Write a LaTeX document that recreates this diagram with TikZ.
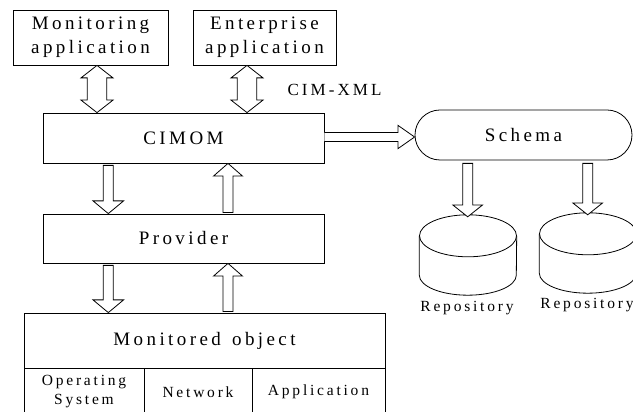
\documentclass[tikz,border=0pt]{standalone}
\usepackage{fontspec}
\setmainfont{Liberation Serif}[LetterSpace=18]
\usetikzlibrary{calc,shapes.misc}
\newcommand\bigtxt{\fontsize{19}{24}\selectfont}
\newcommand\smalltxt{\fontsize{15.5}{19}\selectfont}
% vertical fat arrow: #1 x, #2 start, #3 tip, #4 shaft half, #5 head half, #6 head length, #7 dir (1 up, -1 down)
\newcommand\fatV[7]{%
  \draw[fat] let \p1=(#2), \p2=(#3) in
   ({#1pt-#4pt},\y1) -- ({#1pt-#4pt},{\y2-#7*#6pt}) -- ({#1pt-#5pt},{\y2-#7*#6pt}) -- (#1pt,\y2)
   -- ({#1pt+#5pt},{\y2-#7*#6pt}) -- ({#1pt+#4pt},{\y2-#7*#6pt}) -- ({#1pt+#4pt},\y1) -- cycle;}
% vertical double fat arrow: #1 x, #2 lower tip, #3 upper tip, #4 shaft half, #5 head half, #6 head length
\newcommand\fatDV[6]{%
  \draw[fat] let \p1=(#2), \p2=(#3) in
   (#1pt,\y1) -- ({#1pt+#5pt},{\y1+#6pt}) -- ({#1pt+#4pt},{\y1+#6pt}) -- ({#1pt+#4pt},{\y2-#6pt})
   -- ({#1pt+#5pt},{\y2-#6pt}) -- (#1pt,\y2) -- ({#1pt-#5pt},{\y2-#6pt}) -- ({#1pt-#4pt},{\y2-#6pt})
   -- ({#1pt-#4pt},{\y1+#6pt}) -- ({#1pt-#5pt},{\y1+#6pt}) -- cycle;}
% horizontal fat arrow to the right: #1 y, #2 start, #3 tip, #4 shaft half, #5 head half, #6 head length
\newcommand\fatH[6]{%
  \draw[fat] let \p1=(#2), \p2=(#3) in
   (\x1,{#1pt+#4pt}) -- ({\x2-#6pt},{#1pt+#4pt}) -- ({\x2-#6pt},{#1pt+#5pt}) -- (\x2,#1pt)
   -- ({\x2-#6pt},{#1pt-#5pt}) -- ({\x2-#6pt},{#1pt-#4pt}) -- (\x1,{#1pt-#4pt});}
\begin{document}
\begin{tikzpicture}[x=1pt,y=1pt,
  box/.style={draw, line width=0.8pt, inner sep=0pt, align=center, font=\bigtxt},
  cell/.style={draw, line width=0.8pt, inner sep=0pt, align=center, font=\smalltxt},
  fat/.style={draw, line width=0.8pt, fill=white, line join=miter},
  lbl/.style={inner sep=0pt, font=\smalltxt},
  cylbox/.style={inner sep=0pt, minimum width=97pt, minimum height=80pt}]
\useasboundingbox (0,0) rectangle (633,412);
\clip (0,0) rectangle (633,412);
\fill[white] (0,0) rectangle (633,412);

\node[box, minimum width=155pt, minimum height=55pt] (mon) at (90.5,374.5) {Monitoring\\application};
\node[box, minimum width=143pt, minimum height=55pt] (ent) at (264.5,374.5) {Enterprise\\application};
\node[box, minimum width=281pt, minimum height=50pt] (cimom) at (183.5,274) {CIMOM};
\node[box, minimum width=281pt, minimum height=49pt] (prov) at (183.5,173.5) {Provider};
\node[box, minimum width=361pt, minimum height=55pt] (mobj) at (204.5,71.5) {Monitored\hspace{3pt} object};
\node[cell, minimum width=120pt, minimum height=48pt] (os) at (84,20) {Operating\\System};
\node[cell, minimum width=108pt, minimum height=48pt] (net) at (198,20) {Network};
\node[cell, minimum width=133pt, minimum height=48pt] (app) at (318.5,20) {Application};
\node[draw, line width=0.8pt, rounded rectangle, minimum width=217pt, minimum height=50pt,
      inner sep=0pt, font=\bigtxt] (schema) at (523.5,277) {Schema};
\node[lbl, font=\fontsize{17}{20}\selectfont] (cimxml) at (334.5,322) {CIM-XML};

% cylinders
\node[cylbox] (cyl1) at (468,157) {};
\node[cylbox] (cyl2) at (588,159) {};
\foreach \c in {cyl1,cyl2}{
  \draw[line width=0.8pt] ([yshift=-21pt]\c.north) ellipse [x radius=48.5pt, y radius=21pt];
  \draw[line width=0.8pt] ([yshift=-21pt]\c.north west) -- ([yshift=20pt]\c.south west)
    arc[start angle=180, end angle=360, x radius=48.5pt, y radius=20pt] -- ([yshift=-21pt]\c.north east);
}
\node[lbl] (rep1) at (467,104) {Repository};
\node[lbl] (rep2) at (587,107) {Repository};

% arrows
\fatDV{97}{cimom.north}{mon.south}{9.7}{16}{12.5}
\fatDV{247}{cimom.north}{ent.south}{9.7}{16}{12.5}
\fatV{108.3}{[yshift=-2pt]cimom.south}{prov.north}{5}{15.3}{12.7}{-1}
\fatV{228}{[yshift=1pt]prov.north}{cimom.south}{5}{14.5}{12.7}{1}
\fatV{108.3}{[yshift=-2pt]prov.south}{mobj.north}{5}{15.3}{12.7}{-1}
\fatV{228}{[yshift=1pt]mobj.north}{prov.south}{5}{14.5}{12.7}{1}
\fatH{275}{cimom.east}{schema.west}{4.5}{11.7}{16.7}
\fatV{467.7}{[yshift=-3pt]schema.south}{[yshift=-2pt]cyl1.north}{5}{14.7}{11.7}{-1}
\fatV{587.7}{[yshift=-3pt]schema.south}{[yshift=-2pt]cyl2.north}{5}{14.7}{11.7}{-1}
\end{tikzpicture}
\end{document}
